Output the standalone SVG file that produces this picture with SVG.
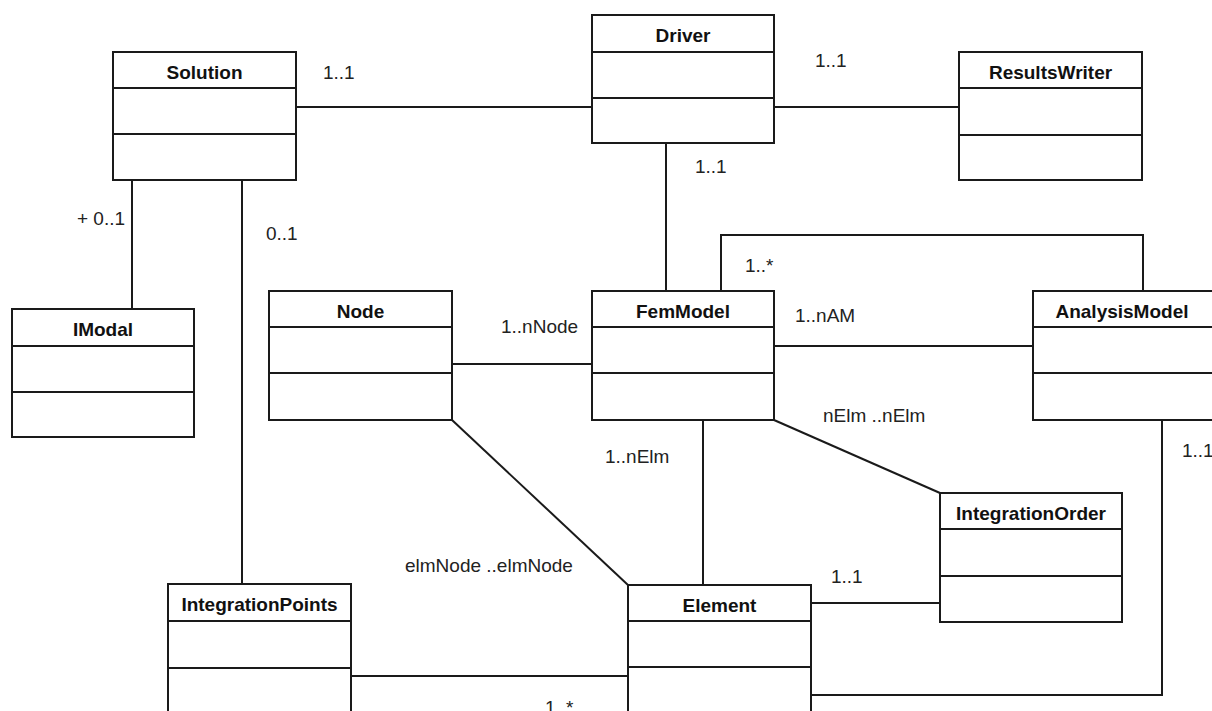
<svg xmlns="http://www.w3.org/2000/svg" width="1212" height="711" viewBox="0 0 1212 711">
  <style>
    .box { fill: #ffffff; stroke: #1a1a1a; stroke-width: 2; }
    .sep { stroke: #1a1a1a; stroke-width: 2; }
    .title { font-family: "Liberation Sans", Arial, sans-serif; font-size: 19px; font-weight: bold; fill: #111111; text-anchor: middle; }
    .conn { fill: none; stroke: #1a1a1a; stroke-width: 2; }
    .mult { font-family: "Liberation Sans", Arial, sans-serif; font-size: 19px; fill: #222222; }
  </style>
  <rect width="1212" height="711" fill="#ffffff"/>

  <!-- associations -->
  <g id="connectors">
    <path class="conn" d="M296 107 H592"/>
    <path class="conn" d="M774 107 H959"/>
    <path class="conn" d="M666 143 V291"/>
    <path class="conn" d="M132 180 V309"/>
    <path class="conn" d="M242 180 V584"/>
    <path class="conn" d="M721 291 V235 H1143 V291"/>
    <path class="conn" d="M452 364 H592"/>
    <path class="conn" d="M774 346 H1033"/>
    <path class="conn" d="M703 420 V585"/>
    <path class="conn" d="M774 420 L940 493"/>
    <path class="conn" d="M452 420 L628 585"/>
    <path class="conn" d="M811 603 H940"/>
    <path class="conn" d="M351 676 H628"/>
    <path class="conn" d="M1162 420 V695 H811"/>
  </g>

  <!-- multiplicities -->
  <g id="multiplicities">
    <text class="mult" x="323" y="79">1..1</text>
    <text class="mult" x="815" y="67">1..1</text>
    <text class="mult" x="695" y="173">1..1</text>
    <text class="mult" x="77" y="225">+ 0..1</text>
    <text class="mult" x="266" y="240">0..1</text>
    <text class="mult" x="745" y="272">1..*</text>
    <text class="mult" x="501" y="333">1..nNode</text>
    <text class="mult" x="795" y="322">1..nAM</text>
    <text class="mult" x="823" y="422">nElm ..nElm</text>
    <text class="mult" x="605" y="463">1..nElm</text>
    <text class="mult" x="1182" y="457">1..1</text>
    <text class="mult" x="405" y="572">elmNode ..elmNode</text>
    <text class="mult" x="831" y="583">1..1</text>
    <text class="mult" x="545" y="714">1..*</text>
  </g>

  <!-- classes -->
  <g id="Solution">
    <rect class="box" x="113" y="52" width="183" height="128"/>
    <line class="sep" x1="113" y1="88" x2="296" y2="88"/>
    <line class="sep" x1="113" y1="134" x2="296" y2="134"/>
    <text class="title" x="204.5" y="79">Solution</text>
  </g>
  <g id="Driver">
    <rect class="box" x="592" y="15" width="182" height="128"/>
    <line class="sep" x1="592" y1="52" x2="774" y2="52"/>
    <line class="sep" x1="592" y1="98" x2="774" y2="98"/>
    <text class="title" x="683" y="42">Driver</text>
  </g>
  <g id="ResultsWriter">
    <rect class="box" x="959" y="52" width="183" height="128"/>
    <line class="sep" x1="959" y1="88" x2="1142" y2="88"/>
    <line class="sep" x1="959" y1="135" x2="1142" y2="135"/>
    <text class="title" x="1050.5" y="79">ResultsWriter</text>
  </g>
  <g id="IModal">
    <rect class="box" x="12" y="309" width="182" height="128"/>
    <line class="sep" x1="12" y1="346" x2="194" y2="346"/>
    <line class="sep" x1="12" y1="392" x2="194" y2="392"/>
    <text class="title" x="103" y="336">IModal</text>
  </g>
  <g id="Node">
    <rect class="box" x="269" y="291" width="183" height="129"/>
    <line class="sep" x1="269" y1="327" x2="452" y2="327"/>
    <line class="sep" x1="269" y1="373" x2="452" y2="373"/>
    <text class="title" x="360.5" y="318">Node</text>
  </g>
  <g id="FemModel">
    <rect class="box" x="592" y="291" width="182" height="129"/>
    <line class="sep" x1="592" y1="327" x2="774" y2="327"/>
    <line class="sep" x1="592" y1="373" x2="774" y2="373"/>
    <text class="title" x="683" y="318">FemModel</text>
  </g>
  <g id="AnalysisModel">
    <rect class="box" x="1033" y="291" width="183" height="129"/>
    <line class="sep" x1="1033" y1="327" x2="1216" y2="327"/>
    <line class="sep" x1="1033" y1="373" x2="1216" y2="373"/>
    <text class="title" x="1122" y="318">AnalysisModel</text>
  </g>
  <g id="IntegrationOrder">
    <rect class="box" x="940" y="493" width="182" height="129"/>
    <line class="sep" x1="940" y1="529" x2="1122" y2="529"/>
    <line class="sep" x1="940" y1="576" x2="1122" y2="576"/>
    <text class="title" x="1031" y="520">IntegrationOrder</text>
  </g>
  <g id="Element">
    <rect class="box" x="628" y="585" width="183" height="140"/>
    <line class="sep" x1="628" y1="621" x2="811" y2="621"/>
    <line class="sep" x1="628" y1="667" x2="811" y2="667"/>
    <text class="title" x="719.5" y="612">Element</text>
  </g>
  <g id="IntegrationPoints">
    <rect class="box" x="168" y="584" width="183" height="140"/>
    <line class="sep" x1="168" y1="621" x2="351" y2="621"/>
    <line class="sep" x1="168" y1="668" x2="351" y2="668"/>
    <text class="title" x="259.5" y="611">IntegrationPoints</text>
  </g>
</svg>
